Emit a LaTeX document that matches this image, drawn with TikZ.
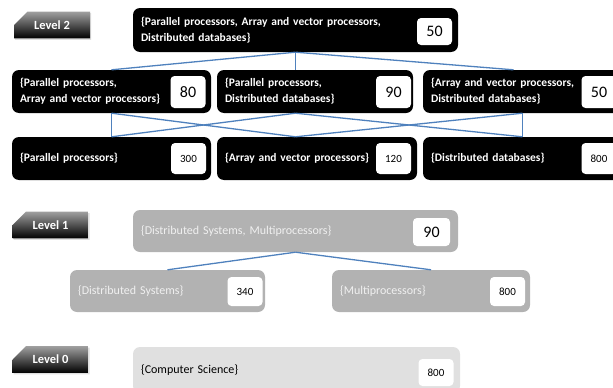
\documentclass[tikz,border=0pt]{standalone}
\usepackage{fontspec}
\setmainfont{Carlito}
\usetikzlibrary{shapes.misc,shadows}

\definecolor{linkblue}{RGB}{79,129,189}
\definecolor{midgray}{RGB}{178,178,178}
\definecolor{palegray}{RGB}{224,224,224}
\definecolor{tabtop}{RGB}{160,160,160}

\tikzset{
  box/.style={rounded corners=7pt, inner xsep=8pt, inner ysep=0pt, align=left,
    font=\fontsize{12}{16}\selectfont},
  lvtwo/.style={box, fill=black, text=white, font=\bfseries\fontsize{11.5}{16}\selectfont},
  lvone/.style={box, fill=midgray, text=white!94!black},
  lvzero/.style={box, fill=palegray, text=black},
  num/.style={fill=white, rounded corners=4pt, text=black, inner sep=0pt,
    minimum width=35pt, minimum height=29pt, font=\fontsize{11}{12}\selectfont},
  bignum/.style={num, font=\fontsize{16}{18}\selectfont},
  link/.style={draw=linkblue, line width=1.3pt},
  tab/.style={chamfered rectangle, chamfered rectangle corners=north west,
    chamfered rectangle xsep=11pt, chamfered rectangle ysep=9pt,
    top color=tabtop, bottom color=black, text=white, inner sep=0pt,
    minimum width=76pt, minimum height=25pt,
    font=\bfseries\fontsize{12.5}{15}\selectfont,
    drop shadow={opacity=0.25, shadow xshift=1pt, shadow yshift=-1.5pt}}
}

\begin{document}
\begin{tikzpicture}[x=1pt,y=-1pt]
\useasboundingbox (0,0) rectangle (613,388);
% level tabs
\node[tab] (Lv2) at (52,25){Level 2};
\node[tab] (Lv1) at (50.5,225){Level 1};
\node[tab] (Lv0) at (50.5,359.5){Level 0};
% level 2
\node[lvtwo, text width=309pt, minimum height=44pt] (T) at (295.5,30){\{Parallel processors, Array and vector processors,\\Distributed databases\}};
\node[bignum, minimum height=27pt] (Tn) at (434.5,31.5){50};
\node[lvtwo, text width=183pt, minimum height=43pt] (A) at (111.5,91.5){\{Parallel processors,\\Array and vector processors\}};
\node[bignum, minimum height=32pt] (An) at (188,92){80};
\node[lvtwo, text width=180pt, minimum height=43pt] (B) at (315,91.5){\{Parallel processors,\\Distributed databases\}};
\node[bignum, minimum height=32pt] (Bn) at (393.5,92){90};
\node[lvtwo, text width=183pt, minimum height=43pt] (C) at (522.5,91.5){\{Array and vector processors,\\Distributed databases\}};
\node[bignum, minimum height=32pt] (Cn) at (599,92){50};
\node[lvtwo, text width=183pt, minimum height=43pt] (D) at (111.5,158.5){\{Parallel processors\}};
\node[num, minimum height=31pt] (Dn) at (188.5,158.5){300};
\node[lvtwo, text width=184pt, minimum height=43pt] (E) at (317,158.5){\{Array and vector processors\}};
\node[num, minimum height=31pt] (En) at (393.5,158.5){120};
\node[lvtwo, text width=183pt, minimum height=43pt] (F) at (522.5,158.5){\{Distributed databases\}};
\node[num, minimum height=31pt] (Fn) at (599,158.5){800};
% level 1
\node[lvone, text width=309pt, minimum height=42pt] (T1) at (295.5,231){\{Distributed Systems, Multiprocessors\}};
\node[bignum, minimum width=37pt, minimum height=28pt] (T1n) at (431.5,232){90};
\node[lvone, text width=179pt, minimum height=42pt] (L1) at (167.5,291){\{Distributed Systems\}};
\node[num] (L1n) at (245,291.5){340};
\node[lvone, text width=182pt, minimum height=42pt] (R1) at (431,291){\{Multiprocessors\}};
\node[num] (R1n) at (507.5,291.5){800};
% level 0
\node[lvzero, text width=311pt, minimum height=46pt] (Z) at (296.5,370){\{Computer Science\}};
\node[num, minimum height=27pt] (Zn) at (436,372.5){800};
% links
\draw[link] (T.south) -- (A.north);
\draw[link] (T.south) -- (B.north -| T.south);
\draw[link] (T.south) -- ([xshift=-9pt]C.north);
\draw[link] (A.south) -- (D.north);
\draw[link] (A.south) -- (E.north -| T.south);
\draw[link] (B.south -| T.south) -- (D.north);
\draw[link] (B.south -| T.south) -- (F.north);
\draw[link] (C.south) -- (E.north -| T.south);
\draw[link] (C.south) -- (F.north);
\draw[link] (T1.south) -- (L1.north);
\draw[link] (T1.south) -- (R1.north);
\end{tikzpicture}
\end{document}
